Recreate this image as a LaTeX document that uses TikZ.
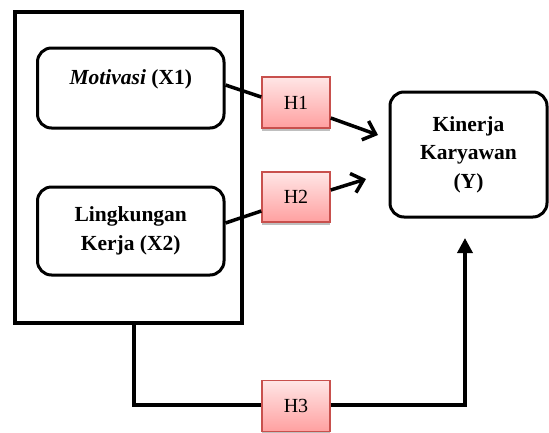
\documentclass[tikz,border=0pt]{standalone}
\usepackage{fontspec}
\setmainfont{Liberation Serif}
\usetikzlibrary{arrows.meta,shadows}
\definecolor{hborder}{RGB}{200,80,77}
\definecolor{htop}{RGB}{255,230,230}
\definecolor{hbot}{RGB}{255,160,160}
\tikzset{
  varbox/.style={draw, line width=3pt, rounded corners=14pt, align=center,
    font=\fontsize{21.5}{28.5}\selectfont\bfseries},
  hbox/.style={draw=hborder, line width=1.5pt, top color=htop, bottom color=hbot,
    minimum width=68pt, minimum height=51pt, font=\fontsize{20}{24}\selectfont,
    drop shadow={shadow xshift=0pt, shadow yshift=-3pt, opacity=0.25, fill=black}},
  conn/.style={line width=3.5pt},
  openarrow/.style={conn, -{Straight Barb[length=11pt,width=20pt,line width=3.5pt]}},
  fillarrow/.style={conn, -{Triangle[length=15pt,width=15pt]}}
}
\begin{document}
\begin{tikzpicture}[x=1pt,y=-1pt]
\useasboundingbox (0,0) rectangle (549,432);
\node[draw, line width=4pt, minimum width=226.5pt, minimum height=311pt, inner sep=0pt] (outer) at (128.25,167.5) {};
\node[varbox, minimum width=186.5pt, minimum height=80pt, text height=15pt, text depth=23pt] (mot) at (130.75,88) {\textit{Motivasi} (X1)};
\node[varbox, minimum width=186.5pt, minimum height=88pt] (ling) at (130.75,231) {Lingkungan\\Kerja (X2)};
\node[varbox, minimum width=157pt, minimum height=125pt] (kin) at (468.5,154.5) {Kinerja\\Karyawan\\(Y)};
\node[hbox] (h1) at (296,102.5) {H1};
\node[hbox, minimum height=50pt] (h2) at (296,197) {H2};
\node[hbox] (h3) at (296,406) {H3};
\coordinate (a1) at (378,135);
\coordinate (a2) at (366,179);
\coordinate (a3) at (465,238);
\coordinate (c3) at (134,405);
\draw[conn] ([yshift=3pt]mot.east) -- ([yshift=5.5pt]h1.west);
\draw[openarrow] ([yshift=-15.5pt]h1.east) -- (a1);
\draw[conn] ([yshift=8pt]ling.east) -- ([yshift=-14pt]h2.west);
\draw[openarrow] ([yshift=7pt]h2.east) -- (a2);
\draw[conn] (outer.south -| c3) -- (c3) -- (c3 -| h3.west);
\draw[fillarrow] (c3 -| h3.east) -- (c3 -| a3) -- (a3);
\end{tikzpicture}
\end{document}
